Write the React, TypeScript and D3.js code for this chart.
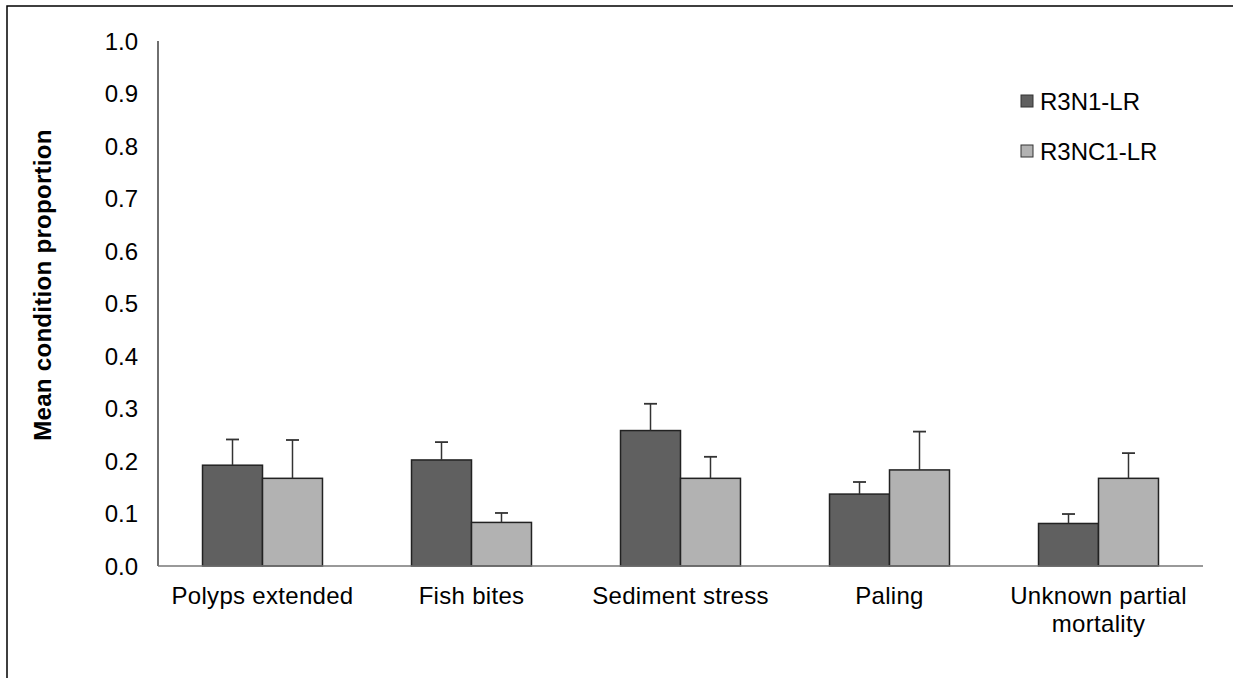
import React, { useEffect, useRef } from 'react';
import * as d3 from 'd3';

const CATEGORIES = ['Polyps extended', 'Fish bites', 'Sediment stress', 'Paling', 'Unknown partial mortality'];
const SERIES = ['R3N1-LR', 'R3NC1-LR'];
const R3N1 = [0.192, 0.202, 0.258, 0.137, 0.081];
const R3N1_ERR = [0.049, 0.034, 0.051, 0.023, 0.018];
const R3NC1 = [0.167, 0.083, 0.167, 0.183, 0.167];
const R3NC1_ERR = [0.073, 0.018, 0.041, 0.073, 0.048];
const Y_TICKS = [0, 0.1, 0.2, 0.3, 0.4, 0.5, 0.6, 0.7, 0.8, 0.9, 1.0];

const COLORS = ['#606060', '#b2b2b2'];
const FONT = '"Liberation Sans", Arial, sans-serif';
const FS = 24;

const App: React.FC = () => {
  const svgRef = useRef<SVGSVGElement>(null);

  useEffect(() => {
    if (!svgRef.current) return;
    const svg = d3.select(svgRef.current);
    svg.selectAll('*').remove();

    const left = 158, right = 1203, top = 41, bottom = 566;

    // frame, runs off the right and bottom edges like the original
    svg.append('rect')
      .attr('x', 7).attr('y', 6)
      .attr('width', 1300).attr('height', 800)
      .attr('fill', 'white').attr('stroke', '#000').attr('stroke-width', 1.5);

    const y = d3.scaleLinear().domain([0, 1]).range([bottom, top]);
    const x0 = d3.scaleBand<string>()
      .domain(CATEGORIES)
      .range([left, right])
      .paddingInner(0.426)
      .paddingOuter(0.213);
    const x1 = d3.scaleBand<string>().domain(SERIES).range([0, x0.bandwidth()]);

    const data = CATEGORIES.map((c, i) => ({
      cat: c,
      vals: [
        { s: SERIES[0], v: R3N1[i], e: R3N1_ERR[i], c: COLORS[0] },
        { s: SERIES[1], v: R3NC1[i], e: R3NC1_ERR[i], c: COLORS[1] },
      ],
    }));

    // y axis labels
    svg.append('g')
      .selectAll('text')
      .data(Y_TICKS)
      .enter()
      .append('text')
      .attr('x', 138)
      .attr('y', d => y(d))
      .attr('dy', '0.36em')
      .attr('text-anchor', 'end')
      .attr('font-family', FONT)
      .attr('font-size', FS)
      .attr('fill', '#000')
      .text(d => d.toFixed(1));

    // axis lines
    svg.append('line')
      .attr('x1', left).attr('x2', left).attr('y1', top).attr('y2', bottom)
      .attr('stroke', '#222').attr('stroke-width', 1.3);

    // bars
    const groups = svg.append('g')
      .selectAll('g')
      .data(data)
      .enter()
      .append('g')
      .attr('transform', d => `translate(${x0(d.cat)},0)`);

    groups.selectAll('rect')
      .data(d => d.vals)
      .enter()
      .append('rect')
      .attr('x', d => x1(d.s)!)
      .attr('y', d => y(d.v))
      .attr('width', x1.bandwidth())
      .attr('height', d => bottom - y(d.v))
      .attr('fill', d => d.c)
      .attr('stroke', '#222')
      .attr('stroke-width', 1.5);

    // error bars (upper only)
    const err = groups.selectAll('g.err')
      .data(d => d.vals)
      .enter()
      .append('g')
      .attr('class', 'err');
    err.append('line')
      .attr('x1', d => x1(d.s)! + x1.bandwidth() / 2)
      .attr('x2', d => x1(d.s)! + x1.bandwidth() / 2)
      .attr('y1', d => y(d.v))
      .attr('y2', d => y(d.v + d.e))
      .attr('stroke', '#333').attr('stroke-width', 1.5);
    err.append('line')
      .attr('x1', d => x1(d.s)! + x1.bandwidth() / 2 - 6.5)
      .attr('x2', d => x1(d.s)! + x1.bandwidth() / 2 + 6.5)
      .attr('y1', d => y(d.v + d.e))
      .attr('y2', d => y(d.v + d.e))
      .attr('stroke', '#333').attr('stroke-width', 1.8);

    svg.append('line')
      .attr('x1', left).attr('x2', right).attr('y1', bottom).attr('y2', bottom)
      .attr('stroke', '#777').attr('stroke-width', 1.6);

    // category labels, wrapped
    const catLabels = svg.append('g')
      .selectAll('text')
      .data(CATEGORIES)
      .enter()
      .append('text')
      .attr('x', d => x0(d)! + x0.bandwidth() / 2)
      .attr('y', 595)
      .attr('text-anchor', 'middle')
      .attr('font-family', FONT)
      .attr('font-size', FS)
      .attr('letter-spacing', 0.3)
      .attr('fill', '#000');
    catLabels.each(function (d) {
      const t = d3.select(this);
      const lines = d === 'Unknown partial mortality' ? ['Unknown partial', 'mortality'] : [d];
      lines.forEach((ln, i) => {
        t.append('tspan')
          .attr('x', x0(d)! + x0.bandwidth() / 2)
          .attr('dy', i === 0 ? '0.36em' : 28)
          .text(ln);
      });
    });

    // y title
    svg.append('text')
      .attr('transform', 'translate(42,285) rotate(-90)')
      .attr('dy', '0.36em')
      .attr('text-anchor', 'middle')
      .attr('font-family', FONT)
      .attr('font-weight', 'bold')
      .attr('font-size', FS)
      .attr('letter-spacing', 0.3)
      .attr('fill', '#000')
      .text('Mean condition proportion');

    // legend
    const legend = svg.append('g')
      .selectAll('g')
      .data(SERIES)
      .enter()
      .append('g')
      .attr('transform', (d, i) => `translate(1021,${95 + i * 50})`);
    legend.append('rect')
      .attr('width', 12).attr('height', 12)
      .attr('fill', (d, i) => COLORS[i])
      .attr('stroke', '#333').attr('stroke-width', 1);
    legend.append('text')
      .attr('x', 19).attr('y', 6)
      .attr('dy', '0.36em')
      .attr('font-family', FONT)
      .attr('font-size', FS)
      .attr('fill', '#000')
      .text(d => d);
  }, []);

  return (
    <svg
      ref={svgRef}
      width={1233}
      height={678}
      viewBox="0 0 1233 678"
      style={{ position: 'absolute', left: 0, top: 0, background: '#fff' }}
    />
  );
};

export default App;
